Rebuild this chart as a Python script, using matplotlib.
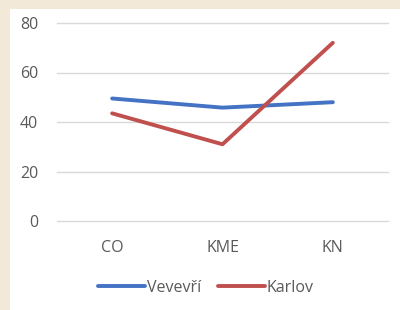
import matplotlib
matplotlib.use("Agg")
import matplotlib.pyplot as plt
from matplotlib.patches import Rectangle

categories = ["CO", "KME", "KN"]
vevevri = [49.5, 45.8, 48.0]
karlov = [43.5, 31.0, 72.0]
yticks = [0, 20, 40, 60, 80]

BLUE = "#4472C4"
RED = "#C0504D"
TEXT = "#595959"

plt.rcParams["font.family"] = ["Open Sans", "DejaVu Sans"]

fig = plt.figure(figsize=(4.0, 3.1), dpi=100)
fig.patch.set_facecolor("#F3E9D8")
# white chart panel, drawn behind the axes
fig.patches.append(Rectangle((10 / 400, 0), 1, 1 - 9 / 310,
                             transform=fig.transFigure, facecolor="white",
                             edgecolor="none", zorder=-10))

ax = fig.add_axes([57 / 400, 1 - 221 / 310, 331 / 400, 198 / 310])
ax.set_facecolor("none")
x = list(range(len(categories)))
ax.plot(x, vevevri, color=BLUE, lw=2.8, label="Vevevří", solid_capstyle="round")
ax.plot(x, karlov, color=RED, lw=2.8, label="Karlov", solid_capstyle="round")

ax.set_xlim(-0.5, len(categories) - 0.5)
ax.set_ylim(0, 80)
ax.set_yticks(yticks)
ax.set_xticks(x)
ax.set_xticklabels(categories)
ax.yaxis.grid(True, color="#D9D9D9", lw=1)
for gl in ax.get_ygridlines():
    gl.set_clip_on(False)
ax.set_axisbelow(True)
for s in ax.spines.values():
    s.set_visible(False)
ax.tick_params(axis="both", length=0, colors=TEXT, labelsize=11.5)
ax.tick_params(axis="y", pad=13.5)
ax.tick_params(axis="x", pad=14)

fig.legend(loc="center", bbox_to_anchor=(206 / 400, 1 - 288 / 310), ncol=2,
           frameon=False, fontsize=11.5, handlelength=2.9, columnspacing=1.1,
           handletextpad=0.12, labelcolor=TEXT)

fig.savefig("out.png", dpi=100, facecolor=fig.get_facecolor())
